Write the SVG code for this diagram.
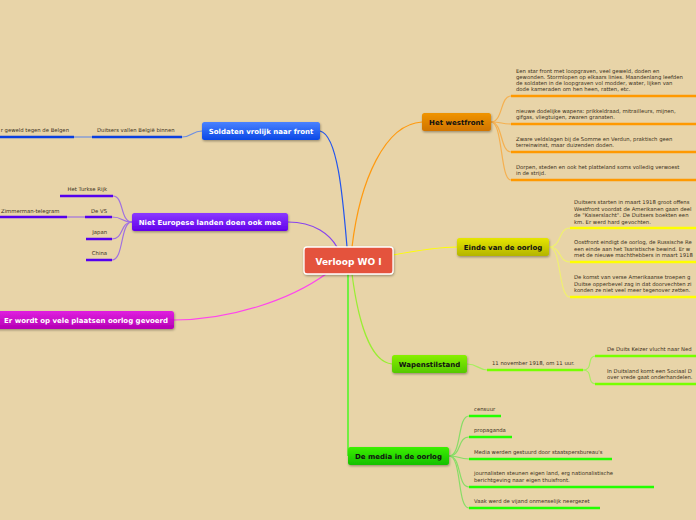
<svg xmlns="http://www.w3.org/2000/svg" width="696" height="520" viewBox="0 0 696 520">
<defs>
<linearGradient id="gBlue" x1="0" y1="0" x2="0" y2="1"><stop offset="0" stop-color="#4a82ff"/><stop offset="1" stop-color="#0a48e6"/></linearGradient>
<linearGradient id="gOrange" x1="0" y1="0" x2="0" y2="1"><stop offset="0" stop-color="#f09400"/><stop offset="1" stop-color="#d07400"/></linearGradient>
<linearGradient id="gPurple" x1="0" y1="0" x2="0" y2="1"><stop offset="0" stop-color="#8a3aff"/><stop offset="1" stop-color="#6200ea"/></linearGradient>
<linearGradient id="gYellow" x1="0" y1="0" x2="0" y2="1"><stop offset="0" stop-color="#e6e600"/><stop offset="1" stop-color="#b4b400"/></linearGradient>
<linearGradient id="gMagenta" x1="0" y1="0" x2="0" y2="1"><stop offset="0" stop-color="#e020e0"/><stop offset="1" stop-color="#b400b4"/></linearGradient>
<linearGradient id="gLime" x1="0" y1="0" x2="0" y2="1"><stop offset="0" stop-color="#88f000"/><stop offset="1" stop-color="#55c800"/></linearGradient>
<linearGradient id="gGreen" x1="0" y1="0" x2="0" y2="1"><stop offset="0" stop-color="#3cf000"/><stop offset="1" stop-color="#14c000"/></linearGradient>
<filter id="sh" x="-10%" y="-30%" width="120%" height="170%"><feDropShadow dx="0.6" dy="1.2" stdDeviation="0.8" flood-color="#000" flood-opacity="0.35"/></filter>
</defs>
<style>
.nt{font-family:"DejaVu Sans",Verdana,sans-serif;font-weight:bold;font-size:7px;text-anchor:middle}
.w{fill:#fff}.k{fill:#111}
.ct{font-family:"DejaVu Sans",Verdana,sans-serif;font-size:5.3px;fill:#3a3020}
.e{text-anchor:end}
.c{fill:none;stroke-width:1.2}
.u{fill:none;stroke-width:2.4}
</style>
<rect width="696" height="520" fill="#e8d4a8"/>

<g id="connectors">
<path class="c" stroke="#2255ee" stroke-width="1.4" d="M320,131 C338,135 343,200 347,247"/>
<path class="c" stroke="#ff9a10" stroke-width="1.4" d="M352,247 C360,180 385,124 422,122"/>
<path class="c" stroke="#8844ee" stroke-width="1.4" d="M288,222 C315,222 330,235 337,247"/>
<path class="c" stroke="#ffff00" stroke-width="1.4" d="M393,255 C420,250 440,247 457,247"/>
<path class="c" stroke="#ff44ee" stroke-width="1.4" d="M326,274 C290,300 230,320 174,320"/>
<path class="c" stroke="#22ff00" stroke-width="1.6" d="M348,274 L348,456"/>
<path class="c" stroke="#99ee33" stroke-width="1.4" d="M352,274 C358,320 370,362 392,364"/>
<!-- westfront -->
<g stroke="#f5b050">
<path class="c" d="M491,122 C503,122 500,96 511,96"/>
<path class="c" d="M491,122 C503,122 500,124 511,124"/>
<path class="c" d="M491,122 C503,122 500,152 511,152"/>
<path class="c" d="M491,122 C503,122 500,180 511,180"/>
</g>
<g stroke="#ff9900">
<path class="u" d="M511,96 H700 M511,124 H700 M511,152 H700 M511,180 H700"/>
</g>
<!-- einde -->
<g stroke="#f0f070">
<path class="c" d="M549,247 C562,247 558,228 570,228"/>
<path class="c" d="M549,247 C562,247 558,262 570,262"/>
<path class="c" d="M549,247 C562,247 558,297 570,297"/>
</g>
<path class="u" stroke="#ffff00" d="M570,228 H700 M570,262 H700 M570,297 H700"/>
<!-- wapenstilstand -->
<g stroke="#a8ee60">
<path class="c" d="M467,364 C478,364 478,370 488,370"/>
<path class="c" d="M583,370 C594,370 586,356 596,356"/>
<path class="c" d="M583,370 C594,370 586,384 596,384"/>
</g>
<path class="u" stroke="#77ff00" d="M487,370 H583 M595,356 H700 M595,384 H700"/>
<!-- media -->
<g stroke="#88dd66">
<path class="c" d="M449,456 C462,456 457,416 469,416"/>
<path class="c" d="M449,456 C462,456 457,437 469,437"/>
<path class="c" d="M449,456 C462,456 457,459 469,459"/>
<path class="c" d="M449,456 C462,456 457,487 469,487"/>
<path class="c" d="M449,456 C462,456 457,508 469,508"/>
</g>
<path class="u" stroke="#22ff00" d="M469,416 H501 M469,437 H512 M469,459 H612 M469,487 H654 M469,508 H600"/>
<!-- soldaten -->
<path class="c" stroke="#7090e0" d="M202,131 C192,131 192,137 182,137"/>
<path class="c" stroke="#7090e0" d="M92,137 H74"/>
<path class="u" stroke="#0a3fe0" d="M92,137 H182 M-2,137 H74"/>
<!-- niet europese -->
<g stroke="#a070e0">
<path class="c" d="M132,222 C120,222 124,196 113,196"/>
<path class="c" d="M132,222 C120,222 124,217 112,217"/>
<path class="c" d="M132,222 C120,222 124,239 112,239"/>
<path class="c" d="M132,222 C120,222 124,260 112,260"/>
<path class="c" d="M85,217 H67"/>
</g>
<path class="u" stroke="#5500ee" d="M60,196 H113 M85,217 H112 M86,239 H112 M86,260 H112 M-2,217 H67"/>
</g>

<g id="center"><rect x="304" y="247" width="89" height="27" rx="3" fill="#e4533c" stroke="#fff" stroke-width="1.3" filter="url(#sh)"/><text class="nt w" x="348.5" y="264.5" style="font-size:9px">Verloop WO I</text></g>

<g id="soldaten"><rect x="202" y="122" width="118" height="18" rx="2.5" fill="url(#gBlue)" filter="url(#sh)"/><text class="nt w" x="261" y="133.5">Soldaten vrolijk naar front</text></g>
<g id="westfront"><rect x="422" y="113" width="69" height="18" rx="2.5" fill="url(#gOrange)" filter="url(#sh)"/><text class="nt k" x="456.5" y="124.5">Het westfront</text></g>
<g id="nieteuropese"><rect x="132" y="213" width="156" height="18" rx="2.5" fill="url(#gPurple)" filter="url(#sh)"/><text class="nt w" x="210" y="224.5">Niet Europese landen doen ook mee</text></g>
<g id="einde"><rect x="457" y="238" width="92" height="18" rx="2.5" fill="url(#gYellow)" filter="url(#sh)"/><text class="nt k" x="503" y="249.5">Einde van de oorlog</text></g>
<g id="vele"><rect x="-10" y="311" width="184" height="18" rx="2.5" fill="url(#gMagenta)" filter="url(#sh)"/><text class="nt w" x="86" y="322.5">Er wordt op vele plaatsen oorlog gevoerd</text></g>
<g id="wapenstilstand"><rect x="392" y="355" width="75" height="18" rx="2.5" fill="url(#gLime)" filter="url(#sh)"/><text class="nt k" x="429.5" y="366.5">Wapenstilstand</text></g>
<g id="media"><rect x="348" y="447" width="101" height="18" rx="2.5" fill="url(#gGreen)" filter="url(#sh)"/><text class="nt k" x="398.5" y="458.5">De media in de oorlog</text></g>

<g id="westfront-items" class="ct">
<text x="516" y="73">Een star front met loopgraven, veel geweld, doden en</text>
<text x="516" y="79">gewonden. Stormlopen op elkaars linies. Maandenlang leefden</text>
<text x="516" y="85">de soldaten in de loopgraven vol modder, water, lijken van</text>
<text x="516" y="91">dode kameraden om hen heen, ratten, etc.</text>
<text x="516" y="113">nieuwe dodelijke wapens: prikkeldraad, mitrailleurs, mijnen,</text>
<text x="516" y="119">gifgas, vliegtuigen, zwaren granaten.</text>
<text x="516" y="141">Zware veldslagen bij de Somme en Verdun, praktisch geen</text>
<text x="516" y="147">terreinwinst, maar duizenden doden.</text>
<text x="516" y="169">Dorpen, steden en ook het platteland soms volledig verwoest</text>
<text x="516" y="175">in de strijd.</text>
</g>
<g id="einde-items" class="ct">
<text x="574" y="204">Duitsers starten in maart 1918 groot offens</text>
<text x="574" y="210.5">Westfront voordat de Amerikanen gaan deel</text>
<text x="574" y="217">de "Kaiserslacht". De Duitsers boekten een</text>
<text x="574" y="224">km. Er werd hard gevochten.</text>
<text x="574" y="244">Oostfront eindigt de oorlog, de Russische Re</text>
<text x="574" y="250.5">een einde aan het Tsaristische bewind. Er w</text>
<text x="574" y="257">met de nieuwe machthebbers in maart 1918</text>
<text x="574" y="279">De komst van verse Amerikaanse troepen g</text>
<text x="574" y="285.5">Duitse opperbevel zag in dat doorvechten zi</text>
<text x="574" y="292">konden ze niet veel meer tegenover zetten.</text>
</g>
<g id="wapen-items" class="ct">
<text x="492" y="365">11 november 1918, om 11 uur.</text>
<text x="607" y="351">De Duits Keizer vlucht naar Ned</text>
<text x="607" y="372.5">In Duitsland komt een Sociaal D</text>
<text x="607" y="378.5">over vrede gaat onderhandelen.</text>
</g>
<g id="media-items" class="ct">
<text x="474" y="411">censuur</text>
<text x="474" y="432">propaganda</text>
<text x="474" y="454">Media werden gestuurd door staatspersbureau's</text>
<text x="474" y="475">journalisten steunen eigen land, erg nationalistische</text>
<text x="474" y="482">berichtgeving naar eigen thuisfront.</text>
<text x="474" y="503">Vaak werd de vijand onmenselijk neergezet</text>
</g>
<g id="soldaten-items" class="ct">
<text x="97" y="132">Duitsers vallen België binnen</text>
<text class="e" x="69" y="132">r geweld tegen de Belgen</text>
</g>
<g id="niet-items" class="ct">
<text class="e" x="107" y="191">Het Turkse Rijk</text>
<text class="e" x="107" y="213">De VS</text>
<text x="1" y="213">Zimmerman-telegram</text>
<text class="e" x="107" y="234">Japan</text>
<text class="e" x="107" y="255">China</text>
</g>
</svg>
